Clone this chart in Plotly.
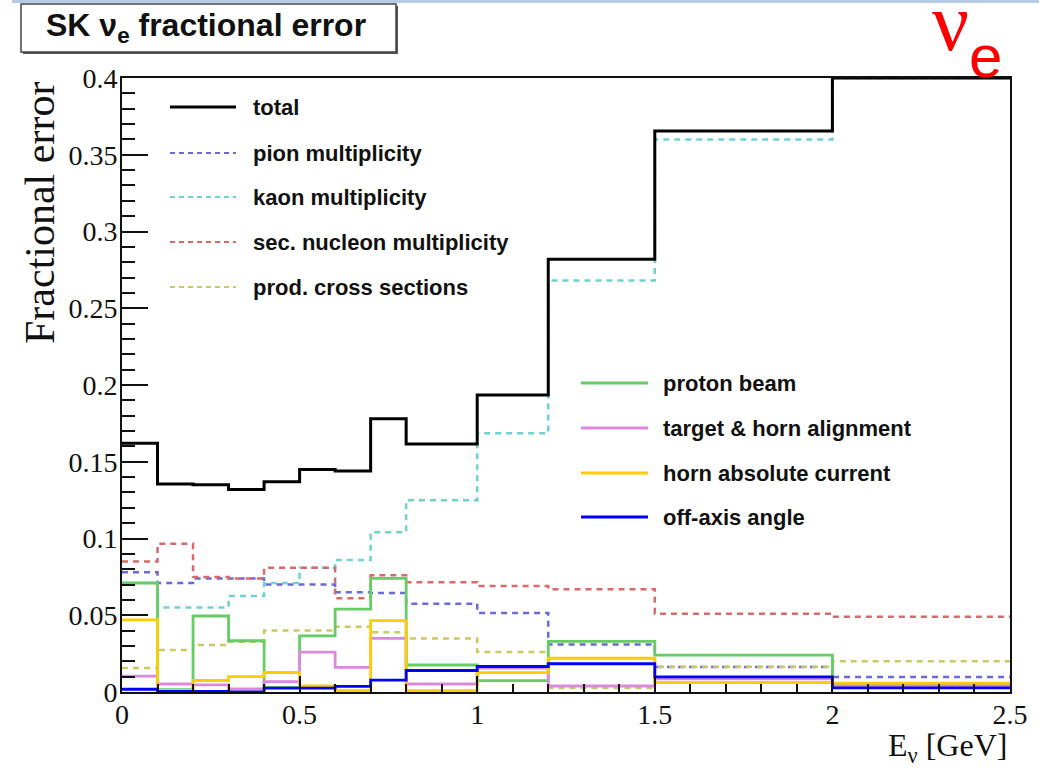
import plotly.graph_objects as go

# Bin edges of the neutrino-energy histogram (GeV)
edges = [0.0, 0.1, 0.2, 0.3, 0.4, 0.5, 0.6, 0.7, 0.8, 1.0, 1.2, 1.5, 2.0, 2.5]

# Fractional flux errors per bin
total = [0.162, 0.1355, 0.135, 0.132, 0.137, 0.145, 0.144, 0.178, 0.1615, 0.1935, 0.282, 0.3655, 0.400]
pion = [0.078, 0.071, 0.074, 0.074, 0.070, 0.070, 0.065, 0.0645, 0.0575, 0.0515, 0.031, 0.0163, 0.0098]
kaon = [0.071, 0.055, 0.055, 0.0625, 0.071, 0.081, 0.086, 0.104, 0.125, 0.1685, 0.268, 0.360, 0.400]
sec_nucleon = [0.085, 0.0965, 0.075, 0.074, 0.081, 0.081, 0.061, 0.076, 0.0715, 0.069, 0.067, 0.051, 0.049]
prod_xsec = [0.0156, 0.0274, 0.0306, 0.0328, 0.040, 0.040, 0.0425, 0.039, 0.0348, 0.026, 0.0026, 0.0165, 0.020]
proton_beam = [0.071, 0.0015, 0.0495, 0.0334, 0.003, 0.0365, 0.054, 0.074, 0.0176, 0.0074, 0.033, 0.0240, 0.0047]
alignment = [0.0104, 0.0052, 0.0046, 0.002, 0.0067, 0.026, 0.016, 0.035, 0.0052, 0.0155, 0.0039, 0.0085, 0.0040]
horn_current = [0.047, 0.001, 0.0075, 0.0100, 0.0127, 0.004, 0.0008, 0.0465, 0.0008, 0.0126, 0.022, 0.0062, 0.0058]
off_axis = [0.0018, 0.0004, 0.0004, 0.0001, 0.0025, 0.0025, 0.0037, 0.0077, 0.014, 0.0166, 0.0184, 0.0098, 0.0027]

legend_top = ["total", "pion multiplicity", "kaon multiplicity",
              "sec. nucleon multiplicity", "prod. cross sections"]
legend_bottom = ["proton beam", "target & horn alignment",
                 "horn absolute current", "off-axis angle"]

y_ticks = [0, 0.05, 0.1, 0.15, 0.2, 0.25, 0.3, 0.35, 0.4]
y_ticktext = ["0", "0.05", "0.1", "0.15", "0.2", "0.25", "0.3", "0.35", "0.4"]
x_ticks = [0, 0.5, 1, 1.5, 2, 2.5]
x_ticktext = ["0", "0.5", "1", "1.5", "2", "2.5"]

# Styles: (values, colour, dash, width)
DASH = "6px,5px"
series = {
    "pion multiplicity": (pion, "#6a6ad8", DASH, 2.5),
    "kaon multiplicity": (kaon, "#6fd2d2", DASH, 2.5),
    "sec. nucleon multiplicity": (sec_nucleon, "#d86a6a", DASH, 2.5),
    "prod. cross sections": (prod_xsec, "#c9c966", DASH, 2.5),
    "proton beam": (proton_beam, "#66cc66", "solid", 2.8),
    "target & horn alignment": (alignment, "#dd88dd", "solid", 2.8),
    "horn absolute current": (horn_current, "#ffcc00", "solid", 2.8),
    "off-axis angle": (off_axis, "#0000ff", "solid", 2.8),
    "total": (total, "#000000", "solid", 3),
}

# Page geometry (pixels)
W_PAGE, H_PAGE = 1039, 768
L, R, T, B = 122, 1010, 78, 692


def px(x):
    return (x - L) / (R - L)


def py(y):
    return (B - y) / (B - T)


fig = go.Figure()

for name in ["pion multiplicity", "kaon multiplicity", "sec. nucleon multiplicity",
             "prod. cross sections", "proton beam", "target & horn alignment",
             "horn absolute current", "off-axis angle", "total"]:
    vals, col, dash, w = series[name]
    fig.add_trace(go.Scatter(
        x=edges, y=vals + [vals[-1]], mode="lines", name=name,
        line=dict(shape="hv", color=col, dash=dash, width=w),
        showlegend=False, hoverinfo="skip",
    ))

shapes = []
annotations = []
legend_font = dict(family="Liberation Sans", size=22, color="#111", weight="bold")

# Legend keys drawn as short line samples next to bold labels
top_rows = [107, 153, 197, 242, 287]
for label, yy in zip(legend_top, top_rows):
    _, col, dash, w = series[label]
    shapes.append(dict(type="line", xref="paper", yref="paper",
                       x0=px(170), x1=px(236), y0=py(yy), y1=py(yy),
                       line=dict(color=col, dash="5px,4px" if dash != "solid" else "solid",
                                 width=3 if label == "total" else 2.2)))
    annotations.append(dict(text=label, xref="paper", yref="paper",
                            x=px(251), y=py(yy), xanchor="left", yanchor="middle",
                            showarrow=False, font=legend_font))

bottom_rows = [383, 428, 473, 517]
for label, yy in zip(legend_bottom, bottom_rows):
    _, col, dash, w = series[label]
    shapes.append(dict(type="line", xref="paper", yref="paper",
                       x0=px(581), x1=px(648), y0=py(yy), y1=py(yy),
                       line=dict(color=col, width=2.8)))
    annotations.append(dict(text=label, xref="paper", yref="paper",
                            x=px(661), y=py(yy), xanchor="left", yanchor="middle",
                            showarrow=False, font=legend_font))

# Title pave with shadow
shapes.append(dict(type="rect", xref="paper", yref="paper",
                   x0=px(23), x1=px(398), y0=py(54), y1=py(6),
                   line=dict(width=0), fillcolor="#555"))
shapes.append(dict(type="rect", xref="paper", yref="paper",
                   x0=px(21), x1=px(396), y0=py(52), y1=py(4),
                   line=dict(color="#444", width=1.5), fillcolor="white"))
annotations.append(dict(text="<b>SK ν<sub>e</sub> fractional error</b>",
                        xref="paper", yref="paper", x=px(206), y=py(28),
                        xanchor="center", yanchor="middle", showarrow=False,
                        font=dict(family="Liberation Sans", size=32, color="#111")))

# Thin slide border strip along the top edge
shapes.append(dict(type="rect", xref="paper", yref="paper",
                   x0=px(12), x1=px(W_PAGE), y0=py(3), y1=py(0),
                   line=dict(width=0), fillcolor="#b7cbe6"))

# Red flavour label (nu box trimmed to the glyph so it stays on the page)
annotations.append(dict(text="ν", xref="paper", yref="paper",
                        x=px(950), y=py(6), xanchor="center", yanchor="top",
                        height=60, valign="bottom", showarrow=False,
                        font=dict(family="Liberation Serif", size=82, color="#ff0000")))
annotations.append(dict(text="e", xref="paper", yref="paper",
                        x=px(985), y=py(57), xanchor="center", yanchor="middle",
                        showarrow=False,
                        font=dict(family="Liberation Sans", size=60, color="#ff0000")))

# Axis titles
annotations.append(dict(text="Fractional error", xref="paper", yref="paper",
                        x=px(40), y=py(80), xanchor="center", yanchor="top",
                        textangle=-90, showarrow=False,
                        font=dict(family="Liberation Serif", size=42, color="#111")))
annotations.append(dict(text="E<sub>ν</sub> [GeV]", xref="paper", yref="paper",
                        x=px(1009), y=py(747), xanchor="right", yanchor="middle",
                        showarrow=False,
                        font=dict(family="Liberation Serif", size=32, color="#111")))

axis_font = dict(family="Liberation Serif", size=28, color="#111")

fig.update_layout(
    width=W_PAGE, height=H_PAGE,
    margin=dict(l=L, r=W_PAGE - R, t=T, b=H_PAGE - B, pad=0),
    paper_bgcolor="white", plot_bgcolor="white",
    showlegend=False,
    shapes=shapes, annotations=annotations,
    xaxis=dict(range=[0, 2.5], tickvals=x_ticks, ticktext=x_ticktext,
               ticks="inside", ticklen=16, tickwidth=1.5, tickcolor="#111",
               minor=dict(dtick=0.1, tick0=0, ticks="inside", ticklen=8,
                          tickwidth=1.5, tickcolor="#111", showgrid=False),
               showgrid=False, zeroline=False, showline=True, linecolor="#111",
               linewidth=2, mirror=True, tickfont=axis_font, ticklabelstandoff=-4),
    yaxis=dict(range=[0, 0.4], tickvals=y_ticks, ticktext=y_ticktext,
               ticks="inside", ticklen=26, tickwidth=1.5, tickcolor="#111",
               minor=dict(dtick=0.01, tick0=0, ticks="inside", ticklen=13,
                          tickwidth=1.5, tickcolor="#111", showgrid=False),
               showgrid=False, zeroline=False, showline=True, linecolor="#111",
               linewidth=2, mirror=True, tickfont=axis_font, ticklabelstandoff=-3),
)

fig.write_html("out.html")
